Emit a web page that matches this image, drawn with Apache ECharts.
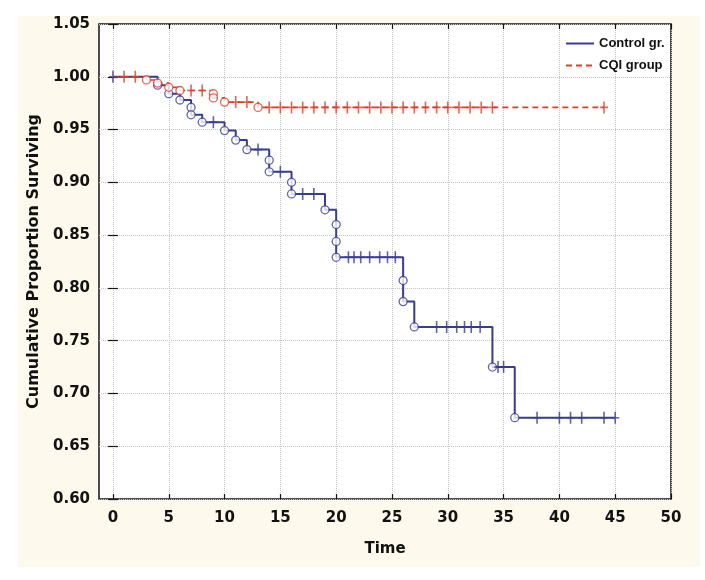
<!DOCTYPE html>
<html><head><meta charset="utf-8">
<script src="https://cdn.jsdelivr.net/npm/echarts@6/dist/echarts.min.js"></script>
<style>html,body{margin:0;padding:0;background:#fff}#c{width:705px;height:580px}</style>
</head><body><div id="c"></div>
<script>
// ---- data ----
const xTicks = [0, 5, 10, 15, 20, 25, 30, 35, 40, 45, 50];

const ctrlName = 'Control gr.';
const ctrlEventTime = [4, 5, 6, 7, 7, 8, 10, 11, 12, 14, 14, 16, 16, 19, 20, 20, 20, 26, 26, 27, 34, 36];
const ctrlEventSurv = [0.992, 0.984, 0.978, 0.971, 0.964, 0.957, 0.949, 0.940, 0.931, 0.921, 0.910, 0.900, 0.889, 0.874, 0.860, 0.844, 0.829, 0.807, 0.787, 0.763, 0.725, 0.677];
const ctrlEndTime = 45;
const ctrlCensorTime = [0, 9, 13, 15, 17, 18, 21.1, 21.6, 22.2, 23.0, 23.9, 24.6, 25.3, 29.0, 29.9, 30.8, 31.5, 32.1, 32.9, 34.5, 35.0, 38, 40, 41, 42, 44, 45];
const ctrlCensorSurv = [1.000, 0.957, 0.931, 0.910, 0.889, 0.889, 0.829, 0.829, 0.829, 0.829, 0.829, 0.829, 0.829, 0.763, 0.763, 0.763, 0.763, 0.763, 0.763, 0.725, 0.725, 0.677, 0.677, 0.677, 0.677, 0.677, 0.677];

const cqiName = 'CQI group';
const cqiEventTime = [3, 4, 5, 6, 9, 9, 10, 13];
const cqiEventSurv = [0.997, 0.994, 0.990, 0.987, 0.984, 0.980, 0.976, 0.971];
const cqiEndTime = 44;
const cqiCensorTime = [1, 2, 7, 8, 11, 12, 14, 15, 16, 17, 18, 19, 20, 21, 22, 23, 24, 25, 26, 27, 28, 29, 30, 31, 32, 33, 34, 44];
const cqiCensorSurv = [1.000, 1.000, 0.987, 0.987, 0.976, 0.976, 0.971, 0.971, 0.971, 0.971, 0.971, 0.971, 0.971, 0.971, 0.971, 0.971, 0.971, 0.971, 0.971, 0.971, 0.971, 0.971, 0.971, 0.971, 0.971, 0.971, 0.971, 0.971];

// ---- build ----
const BLUE = '#383d8e', RED = '#d8402c';
function curve(evT, evS, endT) {
  const pts = [[0, 1.0]];
  evT.forEach((t, i) => pts.push([t, evS[i]]));
  pts.push([endT, evS[evS.length - 1]]);
  return pts;
}
const zip = (a, b) => a.map((v, i) => [v, b[i]]);
const PLUS = 'path://M-0.8,-6 L0.8,-6 L0.8,-0.8 L4,-0.8 L4,0.8 L0.8,0.8 L0.8,6 L-0.8,6 L-0.8,0.8 L-4,0.8 L-4,-0.8 L-0.8,-0.8 Z';
const tickFont = {fontFamily: 'DejaVu Sans', fontWeight: 'bold', fontSize: 15, color: '#111'};

const chart = echarts.init(document.getElementById('c'), null, {renderer: 'canvas'});
chart.setOption({
  animation: false,
  graphic: [{type: 'rect', z: -100, shape: {x: 18, y: 16, width: 682, height: 551}, style: {fill: '#fdf9ed'}}],
  grid: {left: 99, top: 24, width: 572, height: 475, show: true, backgroundColor: '#ffffff', borderColor: '#151515', borderWidth: 1.5},
  legend: {
    data: [ctrlName, cqiName], orient: 'vertical', left: 560, top: 32,
    itemWidth: 28, itemHeight: 10, itemGap: 9,
    itemStyle: {opacity: 0},
    textStyle: {fontFamily: 'Liberation Sans', fontWeight: 'bold', fontSize: 13, color: '#111'}
  },
  xAxis: [{
    type: 'value', min: -1.25, max: 50, position: 'bottom',
    name: 'Time', nameLocation: 'middle', nameGap: 43,
    nameTextStyle: {fontFamily: 'DejaVu Sans', fontWeight: 'bold', fontSize: 15, color: '#111'},
    axisLine: {show: false},
    axisTick: {show: true, inside: true, length: 5, customValues: xTicks, lineStyle: {color: '#151515', width: 1.2}},
    axisLabel: {customValues: xTicks, margin: 12, ...tickFont},
    splitLine: {show: true, lineStyle: {type: 'dotted', color: '#c4c4c4', width: 1}}
  }, {
    type: 'value', min: -1.25, max: 50, position: 'top',
    axisLine: {show: false},
    axisTick: {show: true, inside: true, length: 5, customValues: xTicks, lineStyle: {color: '#151515', width: 1.2}},
    axisLabel: {show: false, customValues: xTicks},
    splitLine: {show: false}
  }],
  yAxis: [{
    type: 'value', min: 0.6, max: 1.05, interval: 0.05, position: 'left',
    name: 'Cumulative Proportion Surviving', nameLocation: 'middle', nameGap: 56,
    nameTextStyle: {fontFamily: 'DejaVu Sans', fontWeight: 'bold', fontSize: 16, color: '#111'},
    axisLine: {show: false},
    axisTick: {show: true, inside: false, length: 5, lineStyle: {color: '#151515', width: 1.2}},
    axisLabel: {margin: 9, formatter: v => v.toFixed(2), ...tickFont},
    splitLine: {show: true, lineStyle: {type: 'dotted', color: '#c4c4c4', width: 1}}
  }, {
    type: 'value', min: 0.6, max: 1.05, interval: 0.05, position: 'right',
    axisLine: {show: false},
    axisTick: {show: true, inside: false, length: 5, lineStyle: {color: '#151515', width: 1.2}},
    axisLabel: {show: false},
    splitLine: {show: false}
  }],
  series: [
    {name: ctrlName, type: 'line', step: 'end', symbol: 'none', data: curve(ctrlEventTime, ctrlEventSurv, ctrlEndTime),
     lineStyle: {color: BLUE, width: 2}, itemStyle: {color: BLUE}, z: 3},
    {name: cqiName, type: 'line', step: 'end', symbol: 'none', data: curve(cqiEventTime, cqiEventSurv, cqiEndTime),
     lineStyle: {color: RED, width: 1.6, type: [6, 4]}, itemStyle: {color: RED}, z: 4},
    {name: ctrlName + ' events', type: 'scatter', symbol: 'circle', symbolSize: 8, data: zip(ctrlEventTime, ctrlEventSurv),
     itemStyle: {color: '#ffffff', borderColor: BLUE, borderWidth: 1.3}, z: 5},
    {name: ctrlName + ' censored', type: 'scatter', symbol: PLUS, symbolSize: [8, 12], data: zip(ctrlCensorTime, ctrlCensorSurv),
     itemStyle: {color: BLUE}, z: 5},
    {name: cqiName + ' events', type: 'scatter', symbol: 'circle', symbolSize: 8, data: zip(cqiEventTime, cqiEventSurv),
     itemStyle: {color: '#ffffff', borderColor: RED, borderWidth: 1.3}, z: 6},
    {name: cqiName + ' censored', type: 'scatter', symbol: PLUS, symbolSize: [8, 12], data: zip(cqiCensorTime, cqiCensorSurv),
     itemStyle: {color: RED}, z: 6}
  ]
});
</script></body></html>
